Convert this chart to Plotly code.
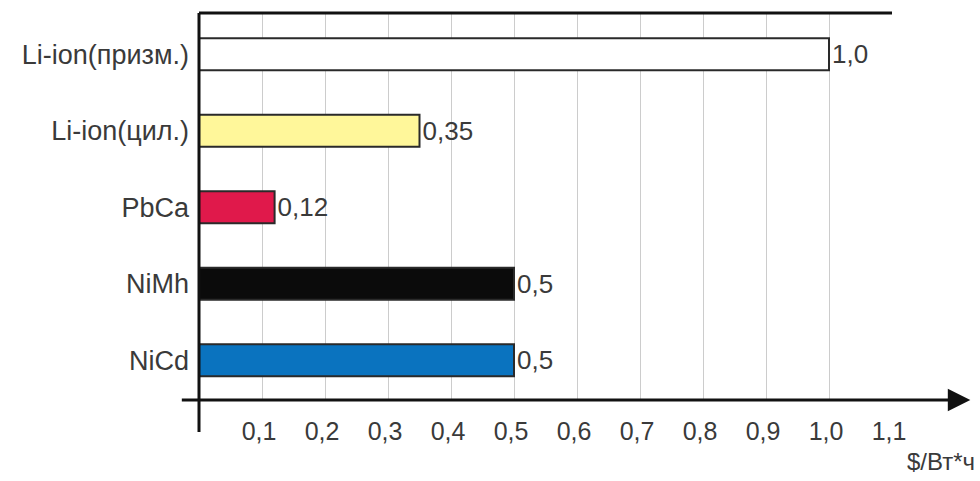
import plotly.graph_objects as go

# Battery cost per watt-hour, bottom to top
categories = ["NiCd", "NiMh", "PbCa", "Li-ion(цил.)", "Li-ion(призм.)"]
costs = [0.5, 0.5, 0.12, 0.35, 1.0]
value_labels = ["0,5", "0,5", "0,12", "0,35", "1,0"]
bar_colors = ["#0a73bf", "#0b0b0b", "#e0194b", "#fff79a", "#ffffff"]

tick_values = [0.1, 0.2, 0.3, 0.4, 0.5, 0.6, 0.7, 0.8, 0.9, 1.0, 1.1]
tick_labels = ["0,1", "0,2", "0,3", "0,4", "0,5", "0,6", "0,7", "0,8", "0,9", "1,0", "1,1"]
unit_label = "$/Вт*ч"

FONT = "Liberation Sans, Arial, sans-serif"
TEXT_COLOR = "#3a3a3a"

fig = go.Figure(
    go.Bar(
        y=categories,
        x=costs,
        orientation="h",
        width=0.42,
        marker=dict(color=bar_colors, line=dict(color="#2a2a2a", width=2)),
        text=value_labels,
        textposition="outside",
        textfont=dict(family=FONT, size=26, color=TEXT_COLOR),
        cliponaxis=False,
        hoverinfo="skip",
    )
)

fig.update_layout(
    width=980,
    height=481,
    margin=dict(l=199, r=88, t=13, b=81),
    paper_bgcolor="white",
    plot_bgcolor="white",
    showlegend=False,
    font=dict(family=FONT, size=25, color=TEXT_COLOR),
    xaxis=dict(
        range=[0, 1.1],
        tickvals=tick_values,
        ticktext=tick_labels,
        showgrid=True,
        gridcolor="#cccccc",
        gridwidth=1,
        zeroline=False,
        showline=False,
        ticks="",
        ticklabelshift=-3,
        ticklabelstandoff=14,
        tickfont=dict(size=25, color=TEXT_COLOR),
        fixedrange=True,
    ),
    yaxis=dict(
        range=[-0.52, 4.54],
        showgrid=False,
        zeroline=False,
        showline=False,
        ticks="",
        ticklabelstandoff=9,
        tickfont=dict(size=27, color=TEXT_COLOR),
        fixedrange=True,
    ),
    shapes=[
        # top border of the plotting frame
        dict(type="line", xref="paper", yref="paper", x0=0, x1=1, y0=1, y1=1,
             line=dict(color="#111111", width=3)),
        # vertical axis, running a little below the horizontal one
        dict(type="line", xref="paper", yref="paper", x0=0, x1=0, y0=-0.083, y1=1,
             line=dict(color="#111111", width=3)),
    ],
    annotations=[
        # horizontal axis with an arrowhead at its right end
        dict(xref="paper", yref="paper", x=1.113, y=0, ax=-790, ay=0,
             axref="pixel", ayref="pixel", text="", showarrow=True,
             arrowhead=2, arrowsize=1.5, arrowwidth=3, arrowcolor="#111111"),
        dict(xref="paper", yref="paper", x=1.122, y=-0.16, text=unit_label,
             showarrow=False, xanchor="right", yanchor="middle",
             font=dict(size=24, color=TEXT_COLOR)),
    ],
)

fig.write_html("out.html")
